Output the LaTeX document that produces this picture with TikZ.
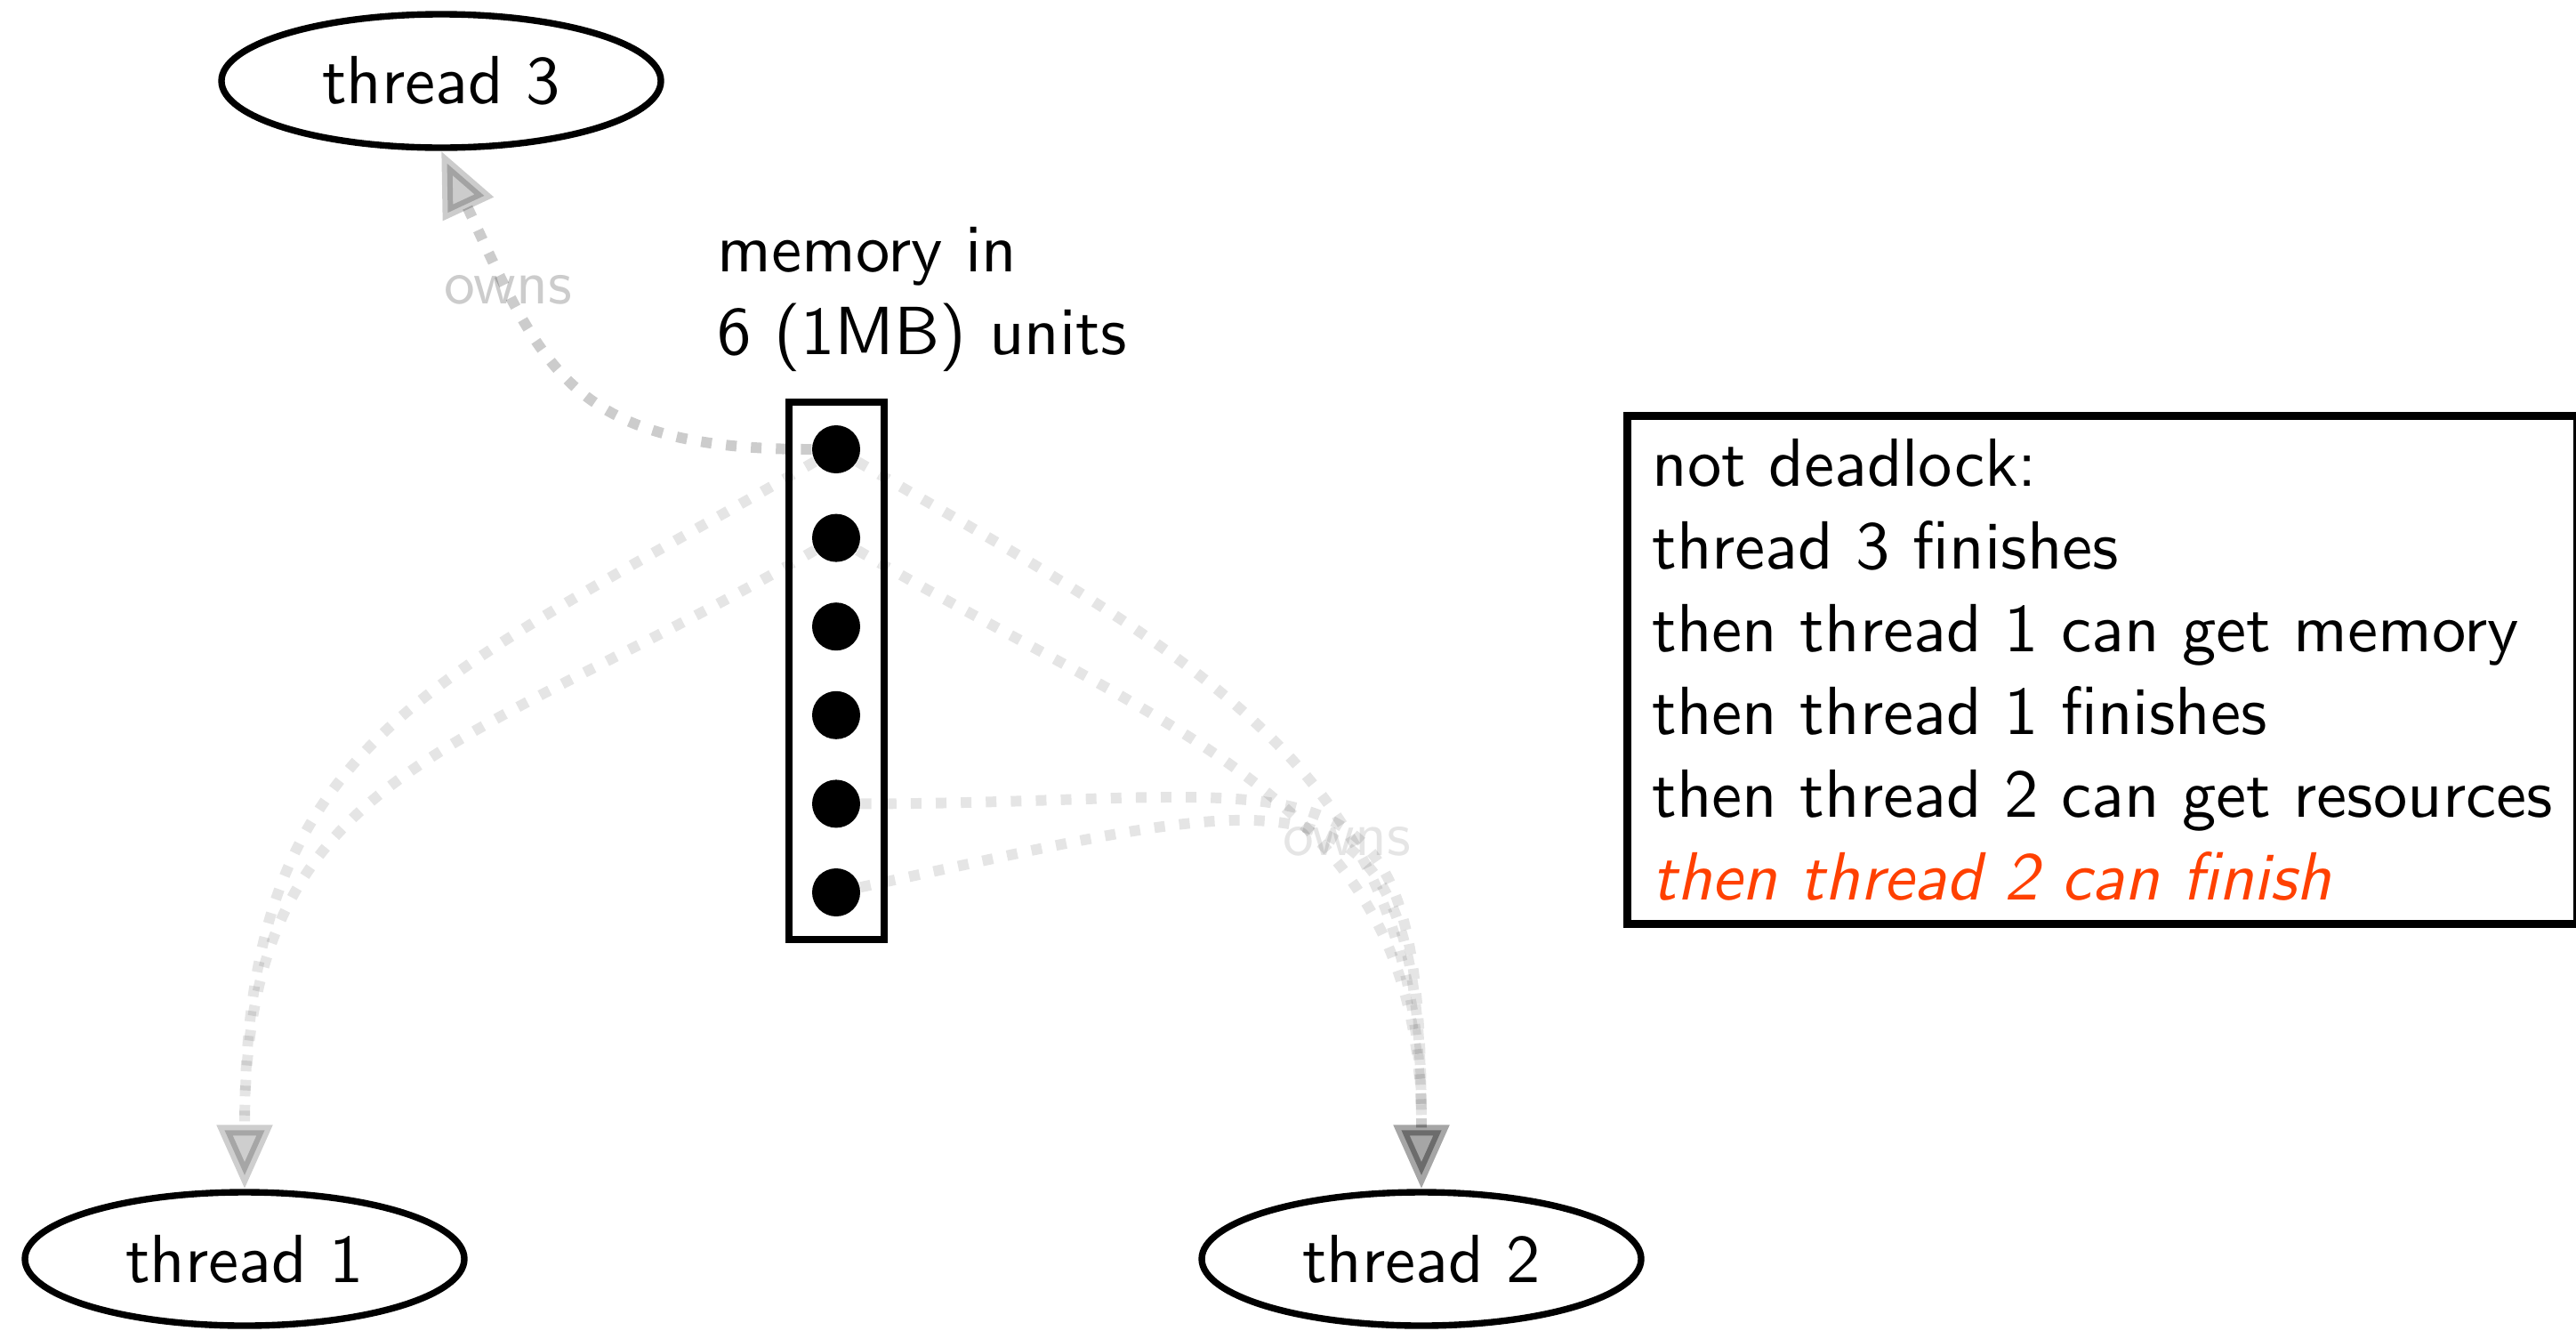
\documentclass[tikz,border=0pt]{standalone}
\usepackage{fontspec}
\setsansfont{lmsans10-regular.otf}[ItalicFont=lmsans10-oblique.otf, BoldFont=lmsans10-bold.otf]
\usetikzlibrary{arrows.meta,shapes.geometric,positioning}
\definecolor{finishred}{RGB}{255,64,0}

\begin{document}
\begin{tikzpicture}[>={Triangle[length=0.72cm,width=0.6cm]}, font=\sffamily\fontsize{21.8}{26.45}\selectfont,
    thread/.style={draw, ellipse, line width=2.1pt, minimum width=4.94cm, minimum height=1.5cm, inner sep=0pt},
    unit/.style={circle, fill=black, inner sep=0pt, minimum size=0.54cm},
    link/.style={->, line width=3.4pt, dash pattern=on 3.4pt off 4.6pt},
    owns/.style={font=\sffamily\fontsize{19.8}{24}\selectfont}]
    \useasboundingbox (0,0) rectangle (28.96,-14.95);

    % Thread
    \node[thread] (t3) at (4.96,-0.91) {thread 3};
    \node[thread] (t1) at (2.75,-14.15) {thread 1};
    \node[thread] (t2) at (15.98,-14.15) {thread 2};

    % Memoria: 6 unita'
    \node[draw, line width=2.3pt, minimum width=1.07cm, minimum height=6.04cm] (mem) at (9.405,-7.54) {};
    \foreach \i in {1,...,6}
        \node[unit] (u\i) at (9.40, {-5.05-(\i-1)*0.996}) {};
    \node[anchor=base west, align=left, inner sep=0pt] (memlabel) at (8.06,-3.98) {memory in\\6 (1MB) units};

    % Spiegazione
    \node[draw, line width=2.5pt, align=left, anchor=north west, inner xsep=0.28cm, inner ysep=0.26cm] (note) at (18.25,-4.63)
        {not deadlock:\\thread 3 finishes\\then thread 1 can get memory\\then thread 1 finishes\\then thread 2 can get resources\\\textcolor{finishred}{\itshape then thread 2 can finish}};

    % thread 3 possiede u1
    \draw[link, opacity=0.2] (u1) to[out=180, in=-65, looseness=1.3] node[owns, pos=0.75, text opacity=0.2] {owns} (t3.south);

    % thread 1 e thread 2
    \foreach \i in {1,2} {
        \draw[link, opacity=0.1] (u\i) to[out=210, in=90, looseness=1.25] (t1.north);
        \draw[link, opacity=0.1] (u\i) to[out=-30, in=90, looseness=1.15] (t2.north);
    }
    \draw[link, opacity=0.1] (u5) to[out=0, in=90, looseness=1.75] node[owns, pos=0.57, text opacity=0.1] {owns} (t2.north);
    \draw[link, opacity=0.1] (u6) to[out=12, in=90, looseness=1.8] (t2.north);
\end{tikzpicture}
\end{document}
